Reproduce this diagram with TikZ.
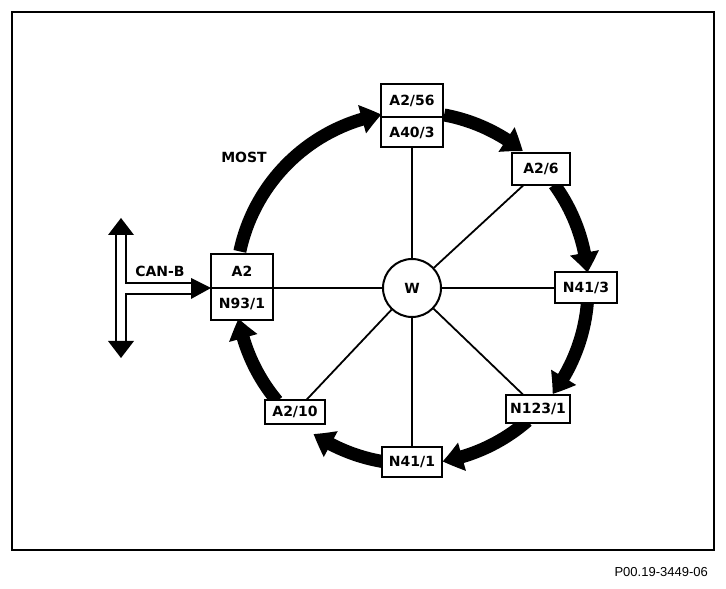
\documentclass[tikz,border=0pt]{standalone}
\usepackage{fontspec}
\setmainfont{Liberation Sans}
\newfontfamily\labelfont{DejaVu Sans}
\usetikzlibrary{arrows.meta,bending,positioning,backgrounds}

\tikzset{
  box/.style={draw, line width=2pt, fill=white, inner sep=0pt, outer sep=0pt,
    minimum width=62pt, minimum height=31pt,
    font=\labelfont\bfseries\fontsize{14}{16}\selectfont},
  hub/.style={draw, circle, line width=2pt, fill=white, inner sep=0pt,
    minimum size=58pt, font=\labelfont\bfseries\fontsize{14}{16}\selectfont},
  lbl/.style={inner sep=0pt, font=\labelfont\bfseries\fontsize{14}{16}\selectfont},
  spoke/.style={line width=1.8pt},
  ring/.style={line width=13pt, -{Triangle[length=20pt,width=28pt,bend]}},
  bus/.style={line width=1.8pt},
}

\begin{document}
\begin{tikzpicture}[x=1pt,y=1pt]
\useasboundingbox (0,0) rectangle (726,589);
\draw[line width=1.4pt] (12,39) rectangle (714,577);

% hub and ring units
\node[hub] (W) at (412,301) {W};
\node[box,minimum height=34pt] (A2) at (242,318) {A2};
\node[box,below=0pt of A2,minimum height=32pt] (N931) {N93/1};
\node[box,minimum height=33pt] (A256) at (412,488) {A2/56};
\node[box,below=0pt of A256,minimum height=30pt] (A403) {A40/3};
\node[box,minimum width=58pt,minimum height=32pt] (A26) at (541,420) {A2/6};
\node[box] (N413) at (586,301) {N41/3};
\node[box,minimum width=64pt,minimum height=28pt] (N1231) at (538,180) {N123/1};
\node[box,minimum width=60pt,minimum height=30pt] (N411) at (412,127) {N41/1};
\node[box,minimum width=60pt,minimum height=24pt] (A210) at (295,177) {A2/10};

% spokes
\draw[spoke] (W) -- (A403);
\draw[spoke] (W) -- (A26);
\draw[spoke] (W) -- (N413);
\draw[spoke] (W) -- (N1231);
\draw[spoke] (W) -- (N411);
\draw[spoke] (W) -- (A210);
\draw[spoke] (W) -- (N931.north east);

% MOST ring
\begin{pgfonlayer}{background}
  \foreach \from/\to in {168/100, 79.5/51, 36/5, -5/-37, -49/-80, -99.5/-124, -140/-170}
    \draw[ring] ([shift={(\from:176)}]W.center) arc[start angle=\from, end angle=\to, radius=176];
\end{pgfonlayer}
\node[lbl] (most) at (244,432) {MOST};

% CAN-B bus
\coordinate (bustop) at (121,371);
\coordinate (busbot) at (121,231);
\draw[bus] (116,354) -- (116,248);
\draw[bus] (126,354) -- (126,306) -- (191,306);
\draw[bus] (126,248) -- (126,295) -- (191,295);
\fill (108,354) -- (bustop) -- (134,354) -- cycle;
\fill (108,248) -- (busbot) -- (134,248) -- cycle;
\fill (191,311) -- (N931.north west) -- (191,290) -- cycle;
\node[lbl] (canb) at (160,318) {CAN-B};

\node[anchor=east, inner sep=0pt, font=\fontsize{13}{15}\selectfont] (code) at (708,17) {P00.19-3449-06};
\end{tikzpicture}
\end{document}
